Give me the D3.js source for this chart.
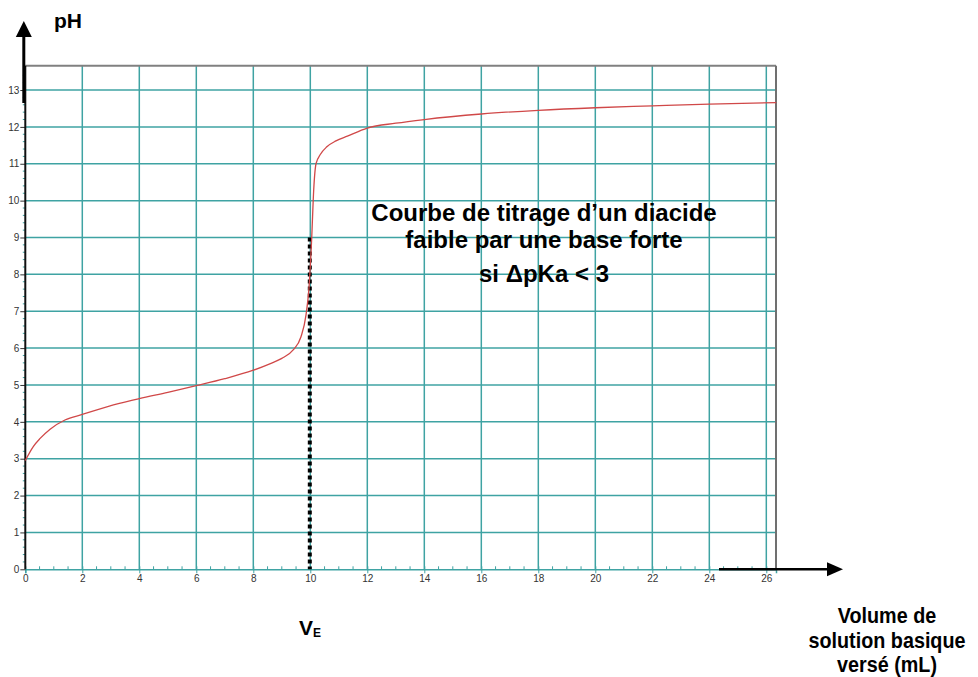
<!DOCTYPE html>
<meta charset="utf-8">
<style>
  body { margin: 0; background: #fff; }
  svg text { font-family: Arial, "Liberation Sans", sans-serif; }
  .tick-label { font-size: 10px; fill: #333; }
  .big { font-size: 21px; font-weight: bold; fill: #000; }
  .title { font-size: 24px; font-weight: bold; fill: #000; }
  .xlab { font-size: 21.5px; font-weight: bold; fill: #000; }
</style>
<body>
<div id="chart"></div>
<script src="https://d3js.org/d3.v7.min.js"></script>
<script>
// titration curve
var volume = [0, 0.28, 0.52, 0.87, 1.39, 2, 3.3, 4, 5, 6, 7, 8, 8.6, 9, 9.4, 9.67, 9.85, 9.95, 10.05, 10.12, 10.2, 10.35, 10.58, 10.9, 11.3, 12, 13, 14, 16, 18, 20, 22, 24, 26.35];
var ph     = [2.95, 3.33, 3.55, 3.8, 4.05, 4.2, 4.5, 4.63, 4.8, 4.98, 5.17, 5.4, 5.58, 5.72, 5.95, 6.3, 6.9, 7.6, 9.0, 10.3, 11.0, 11.25, 11.46, 11.62, 11.75, 11.97, 12.1, 12.2, 12.35, 12.45, 12.52, 12.57, 12.62, 12.66];
var xTicks = [0, 2, 4, 6, 8, 10, 12, 14, 16, 18, 20, 22, 24, 26];
var yTicks = [0, 1, 2, 3, 4, 5, 6, 7, 8, 9, 10, 11, 12, 13];
var veq = 10, veqTop = 9;
var titleLines = ["Courbe de titrage d\u2019un diacide", "faible par une base forte", "si \u0394pKa < 3"];
var xLabelLines = ["Volume de", "solution basique", "versé (mL)"];

var W = 978, H = 677;
var pLeft = 25.3, pRight = 776, pTop = 65.7, pBottom = 569.3;
var grid = "#3fa3a3";

var svg = d3.select("#chart").append("svg").attr("width", W).attr("height", H);

var x = d3.scaleLinear().domain([0, 26.34]).range([pLeft, pRight]);
var y = d3.scaleLinear().domain([0, 13.66]).range([pBottom, pTop]);

// grid
svg.append("g").selectAll("line").data(xTicks.filter(d => d > 0)).enter().append("line")
  .attr("x1", d => x(d)).attr("x2", d => x(d)).attr("y1", pTop).attr("y2", pBottom)
  .attr("stroke", grid).attr("stroke-width", 1.5);
svg.append("g").selectAll("line").data(yTicks.filter(d => d > 0)).enter().append("line")
  .attr("x1", pLeft).attr("x2", pRight).attr("y1", d => y(d)).attr("y2", d => y(d))
  .attr("stroke", grid).attr("stroke-width", 1.5);

// frame top/right
svg.append("line").attr("x1", pLeft).attr("x2", pRight).attr("y1", pTop).attr("y2", pTop)
  .attr("stroke", "#808080").attr("stroke-width", 2);
svg.append("line").attr("x1", pRight).attr("x2", pRight).attr("y1", pTop).attr("y2", pBottom)
  .attr("stroke", "#707070").attr("stroke-width", 2);

// x axis (teal) with minor ticks
var xAxis = d3.axisBottom(x).tickValues(xTicks).tickSize(4).tickPadding(2).tickFormat(d3.format("d"));
var gx = svg.append("g").attr("transform", "translate(0," + pBottom + ")").call(xAxis);
gx.select(".domain").attr("stroke", grid).attr("stroke-width", 1.5);
gx.selectAll(".tick line").attr("stroke", grid).attr("y1", -3);
gx.selectAll(".tick text").attr("class", "tick-label").attr("font-size", null).attr("font-family", null).attr("fill", "#333");
var xMinor = d3.range(0, 26.5, 0.5).filter(d => d % 2 !== 0);
svg.append("g").selectAll("line").data(xMinor).enter().append("line")
  .attr("x1", d => x(d)).attr("x2", d => x(d)).attr("y1", pBottom - 3).attr("y2", pBottom)
  .attr("stroke", grid).attr("stroke-width", 1);

// y axis (black) with minor ticks
var yAxis = d3.axisLeft(y).tickValues(yTicks).tickSize(5).tickPadding(1).tickFormat(d3.format("d"));
var gy = svg.append("g").attr("transform", "translate(" + pLeft + ",0)").call(yAxis);
gy.select(".domain").remove();
gy.selectAll(".tick line").attr("stroke", "#333");
gy.selectAll(".tick text").attr("class", "tick-label").attr("font-size", null).attr("font-family", null).attr("fill", "#333");
var yMinor = d3.range(0, 13.6, 0.2).filter(d => Math.abs(d - Math.round(d)) > 0.01);
svg.append("g").selectAll("line").data(yMinor).enter().append("line")
  .attr("x1", pLeft - 2.5).attr("x2", pLeft).attr("y1", d => y(d)).attr("y2", d => y(d))
  .attr("stroke", grid).attr("stroke-width", 1);
svg.append("line").attr("x1", pLeft).attr("x2", pLeft).attr("y1", pTop).attr("y2", pBottom)
  .attr("stroke", "#111").attr("stroke-width", 2);

// y arrow
svg.append("line").attr("x1", 23.8).attr("x2", 23.8).attr("y1", 34).attr("y2", 103)
  .attr("stroke", "#000").attr("stroke-width", 3);
svg.append("path").attr("d", "M23.8,21 L31.8,37 L15.8,37 Z").attr("fill", "#000");
svg.append("text").attr("class", "big").attr("x", 54).attr("y", 28).text("pH");

// x arrow
svg.append("line").attr("x1", 719).attr("x2", 830).attr("y1", pBottom).attr("y2", pBottom)
  .attr("stroke", "#000").attr("stroke-width", 2.5);
svg.append("path").attr("d", "M843," + pBottom + " L827," + (pBottom - 7) + " L827," + (pBottom + 7) + " Z").attr("fill", "#000");

// equivalence dotted line
svg.append("line").attr("x1", x(veq) - 0.5).attr("x2", x(veq) - 0.5).attr("y1", y(veqTop)).attr("y2", pBottom)
  .attr("stroke", "#000").attr("stroke-width", 4).attr("stroke-dasharray", "4,3");

// curve
var pts = volume.map((v, i) => [v, ph[i]]);
var line = d3.line().x(d => x(d[0])).y(d => y(d[1])).curve(d3.curveMonotoneX);
svg.append("path").datum(pts).attr("d", line).attr("fill", "none")
  .attr("stroke", "#d04848").attr("stroke-width", 1.3);

// annotation
[221, 248, 282].forEach(function (yy, i) {
  svg.append("text").attr("class", "title").attr("text-anchor", "middle")
    .attr("x", 544).attr("y", yy).text(titleLines[i]);
});

// V_E
var ve = svg.append("text").attr("class", "big").attr("x", 299).attr("y", 635);
ve.append("tspan").text("V");
ve.append("tspan").attr("font-size", 12).attr("dy", 2).text("E");

// x label (squeezed a little horizontally like the source)
xLabelLines.forEach(function (t, i) {
  svg.append("text").attr("class", "xlab").attr("text-anchor", "middle")
    .attr("transform", "translate(887," + [623, 647.5, 672][i] + ") scale(0.92,1)").text(t);
});
</script>
</body>
